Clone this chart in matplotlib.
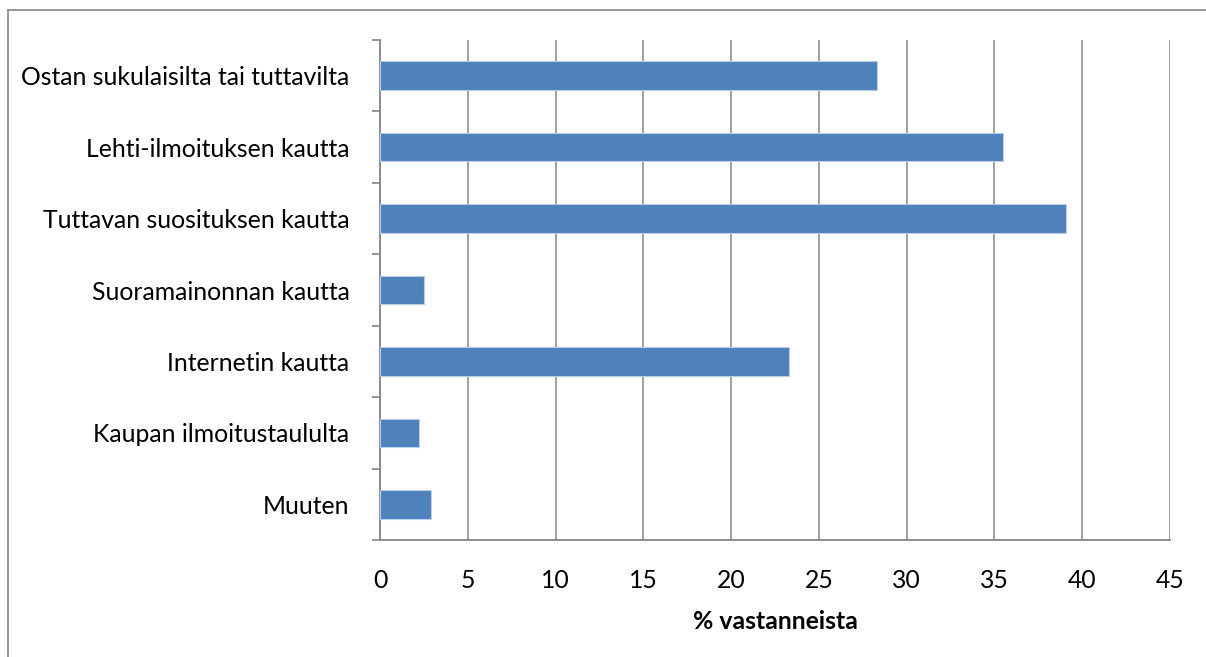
import numpy as np
import matplotlib.pyplot as plt
from matplotlib.lines import Line2D

# Data (top to bottom as in the chart)
categories = ["Ostan sukulaisilta tai tuttavilta",
              "Lehti-ilmoituksen kautta",
              "Tuttavan suosituksen kautta",
              "Suoramainonnan kautta",
              "Internetin kautta",
              "Kaupan ilmoitustaululta",
              "Muuten"]
values = [28.3, 35.5, 39.1, 2.5, 23.3, 2.2, 2.9]
xticks = [0, 5, 10, 15, 20, 25, 30, 35, 40, 45]

plt.rcParams['font.family'] = ['Lato', 'DejaVu Sans']

W, H = 1206, 657
fig = plt.figure(figsize=(W / 100, H / 100), dpi=100)
left, right, top, bottom = 380, 1170, 40, 540
ax = fig.add_axes([left / W, 1 - bottom / H, (right - left) / W, (bottom - top) / H])

n = len(categories)
ypos = np.arange(n)[::-1]
ax.barh(ypos, values, height=0.4, color='#4F81BD', edgecolor='#B9CDE5',
        linewidth=0.8, zorder=3)

ax.set_xlim(0, 45)
ax.set_ylim(-0.5, n - 0.5)
ax.set_xticks(xticks)
ax.set_xticklabels([str(v) for v in xticks], fontsize=17.8)
ax.set_yticks(ypos)
ax.set_yticklabels(categories, fontsize=17.8)
ax.tick_params(axis='y', length=0, pad=22)
ax.tick_params(axis='x', length=0, pad=21)

# boundary ticks on the axes
ax.set_yticks(np.arange(-0.5, n, 1.0), minor=True)
ax.set_xticks(xticks, minor=True)
ax.tick_params(which='minor', axis='y', length=6, width=1.2, color='#868686', direction='out')
ax.tick_params(which='minor', axis='x', length=6, width=1.2, color='#868686', direction='out')

ax.grid(axis='x', color='#868686', linewidth=1.1, zorder=0)
for s in ['top', 'right']:
    ax.spines[s].set_visible(False)
for s in ['left', 'bottom']:
    ax.spines[s].set_color('#868686')
    ax.spines[s].set_linewidth(1.3)

ax.set_xlabel('% vastanneista', fontsize=17.8, fontweight='bold', labelpad=13)

# outer chart border (only top and left edges visible)
fig.lines.append(Line2D([8 / W, 1], [1 - 10 / H, 1 - 10 / H], transform=fig.transFigure,
                        color='#868686', linewidth=1.2))
fig.lines.append(Line2D([8 / W, 8 / W], [0, 1 - 10 / H], transform=fig.transFigure,
                        color='#868686', linewidth=1.2))

fig.savefig('out.png', dpi=100)
